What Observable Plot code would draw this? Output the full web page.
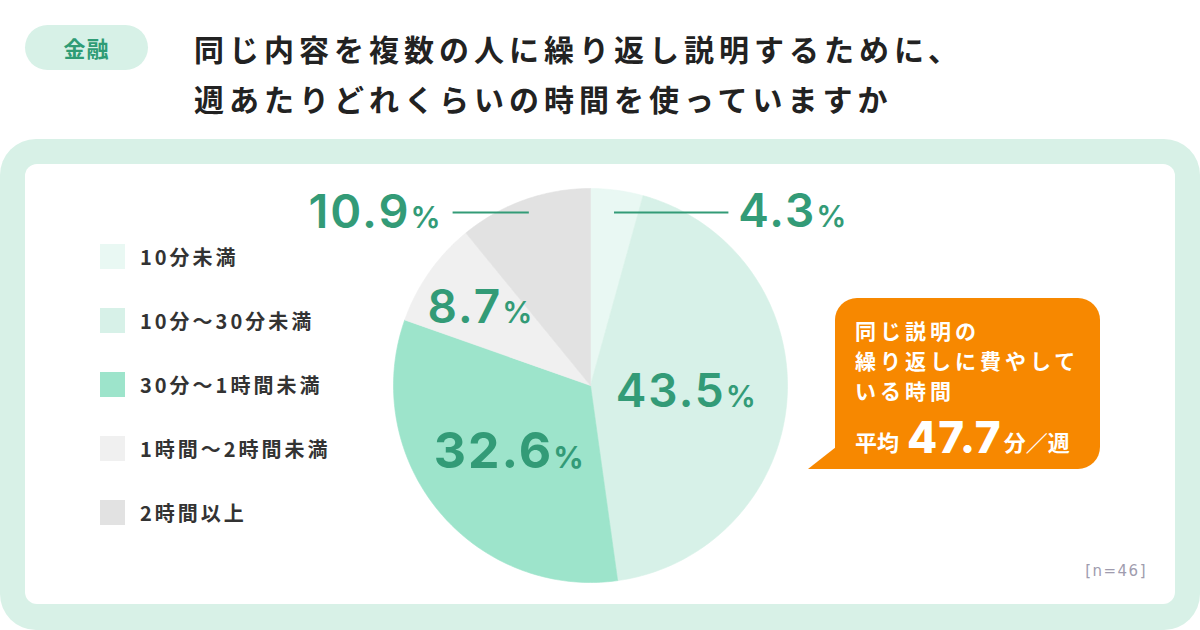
<!DOCTYPE html>
<html lang="ja">
<head>
<meta charset="utf-8">
<script src="https://cdn.jsdelivr.net/npm/d3@7"></script>
<script src="https://cdn.jsdelivr.net/npm/@observablehq/plot@0.6"></script>
<style>
  html, body { margin: 0; padding: 0; }
  body { width: 1200px; height: 630px; position: relative; overflow: hidden; background: #fff;
         font-family: "Noto Sans CJK JP", "Noto Sans", sans-serif; }
  .badge { position: absolute; left: 25px; top: 25px; width: 123px; height: 45px; border-radius: 23px;
           background: #d7f1e7; color: #2f9c75; font-size: 22px; font-weight: 700; line-height: 45px;
           text-align: center; letter-spacing: 1px; }
  .title { position: absolute; left: 194px; top: 23px; font-size: 30px; font-weight: 700; line-height: 50px;
           color: #222; letter-spacing: 5px; white-space: nowrap; }
  .panel { position: absolute; left: 0; top: 139px; width: 1200px; height: 491px; background: #d8f1e7;
           border-radius: 36px; }
  .card { position: absolute; left: 25px; top: 164px; width: 1150px; height: 440px; background: #fff;
          border-radius: 12px; overflow: hidden; }
  #chart { position: absolute; left: 0; top: 0; }
  #chart text { letter-spacing: 2px; }
  .legend { position: absolute; left: 75px; top: 60px; }
  .legend .item { display: flex; align-items: center; height: 64px; }
  .legend .sw { width: 25px; height: 25px; margin-right: 15px; }
  .legend .lb { font-size: 20px; font-weight: 700; color: #333; letter-spacing: 3px; white-space: nowrap; }
  .note { position: absolute; right: 28px; top: 398px; font-family: "DejaVu Sans", sans-serif; font-size: 15px;
          color: #a09cae; letter-spacing: 1.5px; }
  .callout { position: absolute; left: 835px; top: 298px; width: 265px; height: 171px; background: #f78800;
             border-radius: 22px 22px 22px 0; color: #fff; box-sizing: border-box; padding: 17px 0 0 20px; }
  .tail { position: absolute; left: 808px; top: 447px; width: 28px; height: 22px; background: #f78800;
          clip-path: polygon(100% 0, 0 100%, 100% 100%); }
  .callout .desc { font-size: 21px; font-weight: 700; line-height: 30px; letter-spacing: 4px; white-space: nowrap; }
  .callout .avg { margin-top: 9px; font-size: 22px; font-weight: 700; white-space: nowrap; line-height: 46px; }
  .callout .big { font-family: Inter, sans-serif; font-size: 44px; font-weight: 800; letter-spacing: 1px;
                  margin: 0 2px 0 8px; vertical-align: -2px; }
</style>
</head>
<body>
<script>
// ---- data ----
const categories = ["10分未満", "10分〜30分未満", "30分〜1時間未満", "1時間〜2時間未満", "2時間以上"];
const shares = [4.3, 43.5, 32.6, 8.7, 10.9];
const sampleSize = 46;
const averageMinutes = 47.7;
const badgeText = "金融";
const titleLines = ["同じ内容を複数の人に繰り返し説明するために、", "週あたりどれくらいの時間を使っていますか"];
const calloutLines = ["同じ説明の", "繰り返しに費やして", "いる時間"];

// ---- style ----
const palette = ["#e9f8f3", "#d7f1e8", "#9de4cb", "#f0f0f0", "#e2e2e2"];
const labelColor = "#339b77";
const highlight = "30分〜1時間未満";
const innerRadius = {"10分〜30分未満": 0.49, "30分〜1時間未満": 0.53, "1時間〜2時間未満": 0.68};
const outerSide = {"10分未満": 1, "2時間以上": -1};
const outerY = 0.878, leaderEnd = 0.70, textGap = 0.05;

// ---- static layout ----
document.body.insertAdjacentHTML("beforeend", `
  <div class="badge">${badgeText}</div>
  <div class="title">${titleLines.join("<br>")}</div>
  <div class="panel"></div>
  <div class="card">
    <div id="chart"></div>
    <div class="legend">${categories.map((c, i) =>
      `<div class="item"><div class="sw" style="background:${palette[i]}"></div><div class="lb">${c}</div></div>`).join("")}</div>
    <div class="note">[n=${sampleSize}]</div>
  </div>
  <div class="tail"></div>
  <div class="callout">
    <div class="desc">${calloutLines.join("<br>")}</div>
    <div class="avg">平均<span class="big">${averageMinutes}</span>分／週</div>
  </div>
`);

// ---- pie geometry from data ----
let acc = 0;
const slices = categories.map((cat, i) => {
  const a0 = acc / 100 * 2 * Math.PI;
  acc += shares[i];
  const a1 = acc / 100 * 2 * Math.PI;
  return {cat, value: shares[i], a0, a1, mid: (a0 + a1) / 2};
});
const polyPoints = slices.flatMap(s => {
  const n = Math.max(2, Math.ceil((s.a1 - s.a0) / (Math.PI / 180)));
  const arc = d3.range(n + 1).map(k => {
    const a = s.a0 + (s.a1 - s.a0) * k / n;
    return {cat: s.cat, x: Math.sin(a), y: Math.cos(a)};
  });
  return [{cat: s.cat, x: 0, y: 0}, ...arc, {cat: s.cat, x: 0, y: 0}];
});
const pct = v => `${v.toFixed(1)}%`;
const innerLabels = slices.filter(s => s.cat in innerRadius).map(s => ({
  ...s, x: innerRadius[s.cat] * Math.sin(s.mid), y: innerRadius[s.cat] * Math.cos(s.mid), text: pct(s.value)
}));
const outerLabels = slices.filter(s => s.cat in outerSide).map(s => ({
  ...s,
  x1: outerY * Math.tan(s.mid), x2: outerSide[s.cat] * leaderEnd, y: outerY,
  tx: outerSide[s.cat] * (leaderEnd + textGap), text: pct(s.value),
  anchor: outerSide[s.cat] > 0 ? "start" : "end"
}));

const W = 1150, H = 440, R = 197, CX = 565, CY = 221;
const plot = Plot.plot({
  width: W, height: H,
  margin: 0,
  x: {domain: [-CX / R, (W - CX) / R], axis: null},
  y: {domain: [-(H - CY) / R, CY / R], axis: null},
  color: {domain: categories, range: palette},
  style: {fontFamily: "Inter, sans-serif", background: "transparent"},
  marks: [
    Plot.line(polyPoints, {x: "x", y: "y", z: "cat", fill: "cat", stroke: "cat", strokeWidth: 0.6}),
    Plot.link(outerLabels, {x1: "x1", x2: "x2", y1: "y", y2: "y", stroke: labelColor, strokeWidth: 2}),
    Plot.text(outerLabels.filter(d => d.anchor === "start"), {x: "tx", y: "y", text: "text", textAnchor: "start",
      fill: labelColor, fontSize: 46, fontWeight: 600}),
    Plot.text(outerLabels.filter(d => d.anchor === "end"), {x: "tx", y: "y", text: "text", textAnchor: "end",
      fill: labelColor, fontSize: 47, fontWeight: 600}),
    Plot.text(innerLabels.filter(d => d.cat !== highlight), {x: "x", y: "y", text: "text",
      fill: labelColor, fontSize: 46, fontWeight: 600}),
    Plot.text(innerLabels.filter(d => d.cat === highlight), {x: "x", y: "y", text: "text",
      fill: labelColor, fontSize: 50, fontWeight: 700})
  ]
});
document.getElementById("chart").appendChild(plot);

// smaller percent sign
const NS = "http://www.w3.org/2000/svg";
plot.querySelectorAll("text").forEach(t => {
  const s = t.textContent;
  if (!s.endsWith("%")) return;
  t.textContent = "";
  const a = document.createElementNS(NS, "tspan");
  a.textContent = s.slice(0, -1);
  const b = document.createElementNS(NS, "tspan");
  b.textContent = "%";
  b.setAttribute("font-size", "30");
  b.setAttribute("dx", "0");
  t.appendChild(a); t.appendChild(b);
});
</script>
</body>
</html>
